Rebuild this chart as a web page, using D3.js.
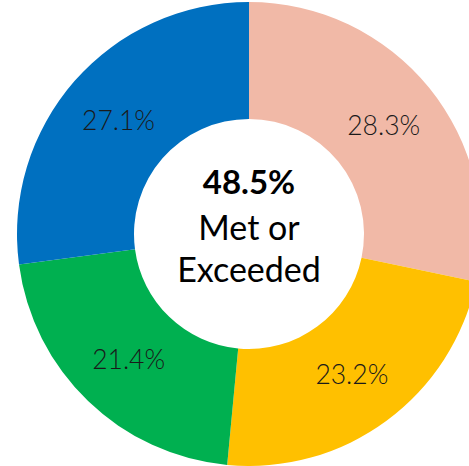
<!DOCTYPE html>
<html>
<head>
<meta charset="utf-8">
<script src="https://cdn.jsdelivr.net/npm/d3@7"></script>
<style>
  html, body { margin: 0; padding: 0; background: #fff; }
  svg { display: block; }
</style>
</head>
<body>
<svg id="chart" width="469" height="466"></svg>
<script>
// Performance level shares, clockwise from 12 o'clock
const categories = ["Level 4", "Level 3", "Level 2", "Level 1"];
const shares = [28.3, 23.2, 21.4, 27.1];
const sliceColors = ["#F1B9A7", "#FFC000", "#00B050", "#0070C0"];
const headline = "48.5%";
const headlineLines = ["Met or", "Exceeded"];

const svg = d3.select("#chart");
const cx = 249, cy = 234;
const outerR = 232, innerR = 115;

const g = svg.append("g").attr("transform", `translate(${cx},${cy})`);

const pie = d3.pie().sort(null).value(d => d.value);
const arc = d3.arc().innerRadius(innerR).outerRadius(outerR);

const data = categories.map((c, i) => ({ name: c, value: shares[i], color: sliceColors[i] }));
const arcs = pie(data);

g.selectAll("path.slice")
  .data(arcs)
  .join("path")
  .attr("class", "slice")
  .attr("d", arc)
  .attr("fill", d => d.data.color);

// Percentage labels at slice centroids
g.selectAll("text.lbl")
  .data(arcs)
  .join("text")
  .attr("class", "lbl")
  .attr("transform", d => { const [x, y] = arc.centroid(d); return `translate(${x},${y})`; })
  .attr("text-anchor", "middle")
  .attr("dy", "0.38em")
  .style("font-family", "Lato, 'Open Sans', sans-serif")
  .style("font-weight", 300)
  .style("font-size", "26.5px")
  .style("fill", "#1a1a1a")
  .text(d => d3.format(".1f")(d.data.value) + "%");

// Center summary
const center = g.append("text")
  .attr("text-anchor", "middle")
  .style("font-family", "Lato, 'Open Sans', sans-serif")
  .style("fill", "#000");

center.append("tspan")
  .attr("x", 0).attr("y", 194 - cy)
  .style("font-weight", 700)
  .style("font-size", "33px")
  .text(headline);

center.append("tspan")
  .attr("x", 0).attr("y", 240 - cy)
  .style("font-size", "34px")
  .text(headlineLines[0]);

center.append("tspan")
  .attr("x", 0).attr("y", 282 - cy)
  .style("font-size", "34px")
  .text(headlineLines[1]);
</script>
</body>
</html>
